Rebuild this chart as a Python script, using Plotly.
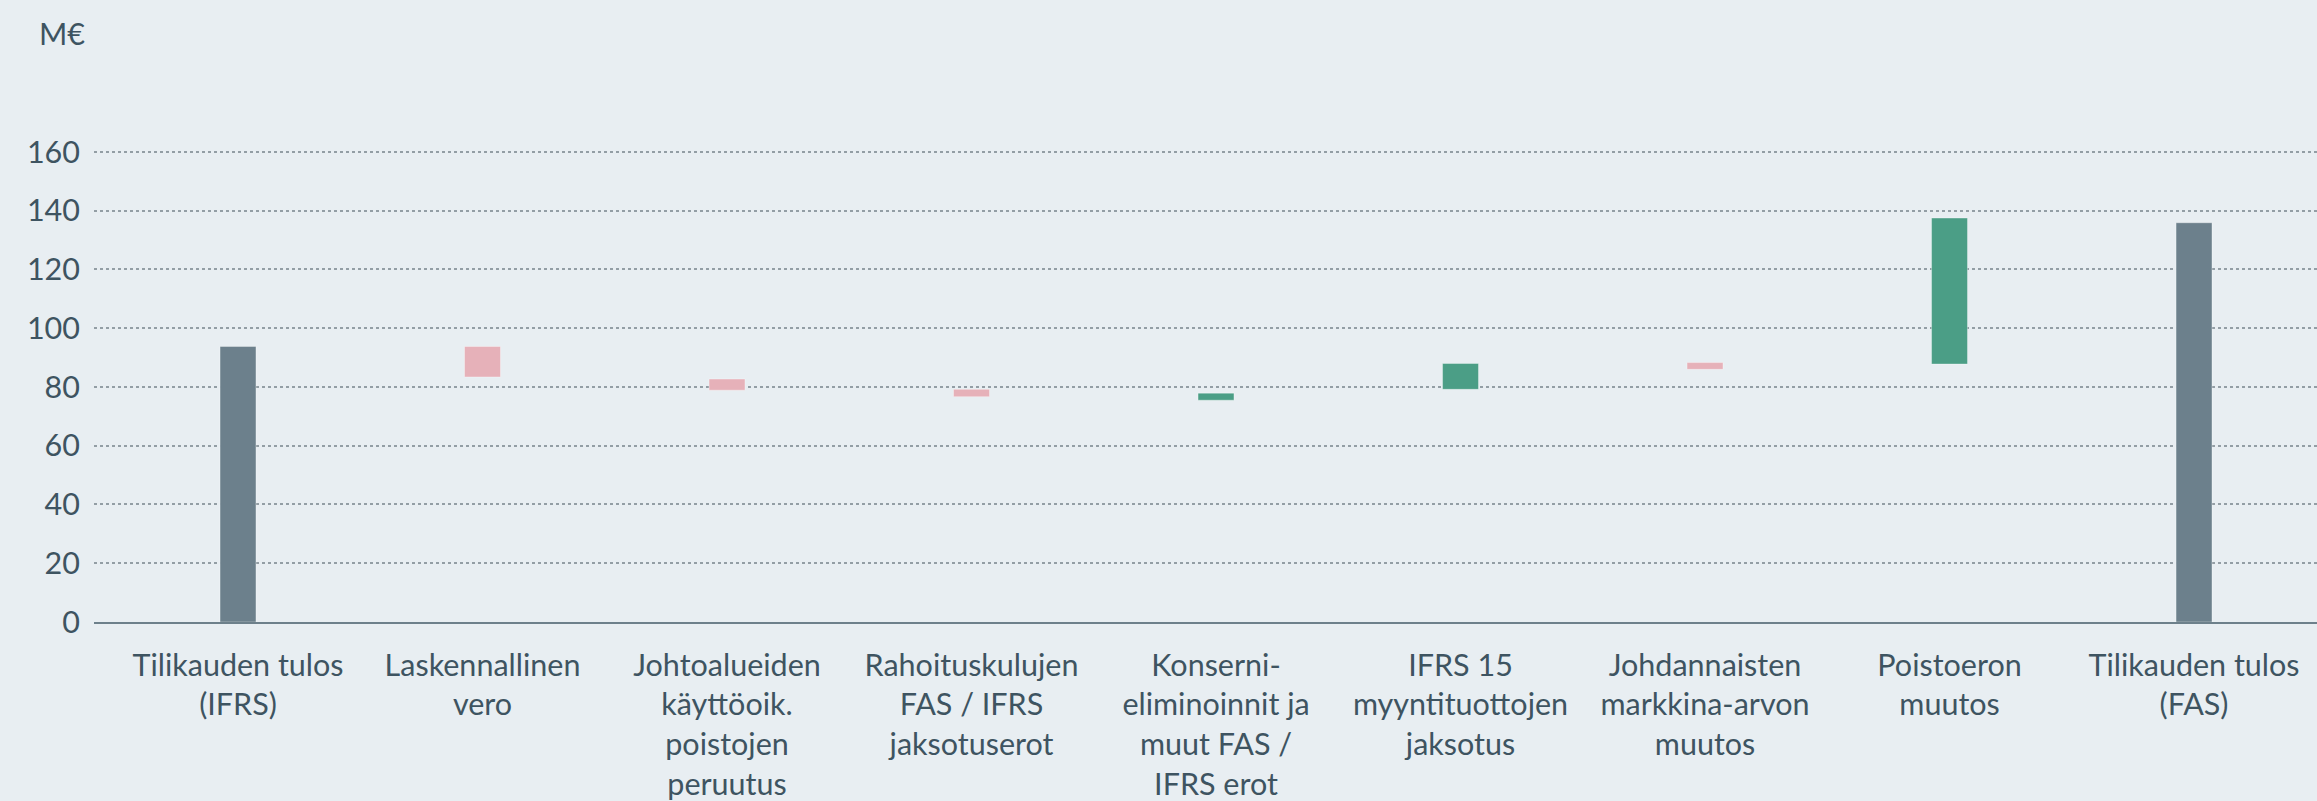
import plotly.graph_objects as go

# ---- data ----
categories = [
    "Tilikauden tulos<br>(IFRS)",
    "Laskennallinen<br>vero",
    "Johtoalueiden<br>käyttöoik.<br>poistojen<br>peruutus",
    "Rahoituskulujen<br>FAS / IFRS<br>jaksotuserot",
    "Konserni-<br>eliminoinnit ja<br>muut FAS /<br>IFRS erot",
    "IFRS 15<br>myyntituottojen<br>jaksotus",
    "Johdannaisten<br>markkina-arvon<br>muutos",
    "Poistoeron<br>muutos",
    "Tilikauden tulos<br>(FAS)",
]
bar_start = [0, 93.8, 82.7, 79.2, 75.5, 79.2, 88.3, 87.8, 0]
bar_end = [93.8, 83.4, 78.9, 76.7, 77.9, 88.0, 86.0, 137.5, 135.9]
bar_kind = ["total", "decrease", "decrease", "decrease", "increase",
            "increase", "decrease", "increase", "total"]
y_ticks = [0, 20, 40, 60, 80, 100, 120, 140, 160]
y_unit = "M€"

colors = {"total": "#6c808c", "decrease": "#e6b1b9", "increase": "#4b9e86"}
BG = "#e8eef2"
TXT = "#3e5461"
FONT = "Lato"
FS = 30.5

fig = go.Figure()
for kind in ["total", "decrease", "increase"]:
    idx = [i for i, k in enumerate(bar_kind) if k == kind]
    fig.add_trace(go.Bar(
        x=idx,
        base=[min(bar_start[i], bar_end[i]) for i in idx],
        y=[abs(bar_end[i] - bar_start[i]) for i in idx],
        width=0.147,
        marker=dict(color=colors[kind], line=dict(color="rgba(255,255,255,0.35)", width=1)),
        showlegend=False,
        hoverinfo="skip",
    ))

fig.update_layout(
    width=2317, height=801,
    margin=dict(l=94, r=0, t=149, b=177, pad=0),
    paper_bgcolor=BG, plot_bgcolor=BG,
    font=dict(family=FONT, size=FS, color=TXT),
    barmode="overlay",
    xaxis=dict(
        range=[-0.589, 8.503],
        tickmode="array", tickvals=list(range(len(categories))), ticktext=categories,
        showgrid=False, zeroline=False,
        showline=True, linecolor="#6d808b", linewidth=2,
        ticks="", ticklabelstandoff=15,
        tickfont=dict(family=FONT, size=FS, color=TXT),
    ),
    yaxis=dict(
        range=[0, 161],
        tickmode="array", tickvals=y_ticks,
        showgrid=True, gridcolor="#939ea5", gridwidth=1.5, griddash="dot",
        zeroline=False, showline=False,
        ticks="", ticklabelstandoff=13,
        tickfont=dict(family=FONT, size=FS, color=TXT),
    ),
    annotations=[dict(
        text=y_unit, xref="paper", yref="paper",
        x=-57 / 2223, y=1 + (148.7 - 32.5) / 475,
        xanchor="left", yanchor="middle", showarrow=False,
        font=dict(family=FONT, size=FS, color=TXT),
    )],
)

fig.write_html(
    "out.html",
    config={"displayModeBar": False},
    post_script="document.body.style.margin='0';document.body.style.background='%s';" % BG,
)
